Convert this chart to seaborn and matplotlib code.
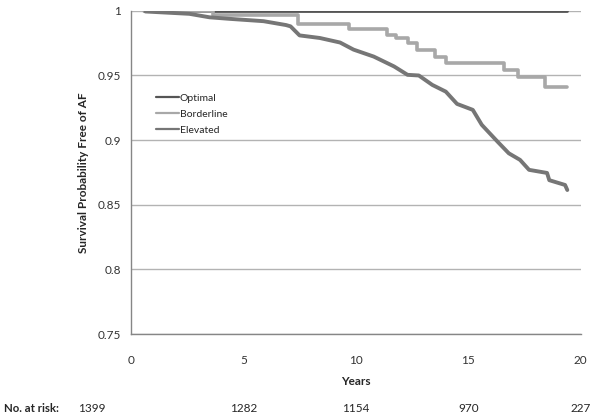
import numpy as np
import pandas as pd
import matplotlib
matplotlib.use("Agg")
import matplotlib.pyplot as plt
import seaborn as sns

# ---- data ----
optimal_t = [0.6, 19.4]
optimal_s = [1.0, 1.0]

borderline_t = [0.6, 3.65, 7.45, 9.7, 11.4, 11.8, 12.3, 12.7, 13.5, 14.0, 16.6, 17.2, 18.4, 19.4]
borderline_s = [1.0, 0.9964, 0.990, 0.986, 0.9814, 0.979, 0.975, 0.970, 0.9646, 0.960, 0.954, 0.9487, 0.9414, 0.9414]

elevated_t = [0.65, 2.6, 3.5, 4.4, 5.9, 6.9, 7.1, 7.5, 8.4, 9.3, 9.9, 10.8, 11.7, 12.3, 12.8, 13.4,
              14.0, 14.5, 15.2, 15.6, 16.3, 16.8, 17.3, 17.7, 18.5, 18.6, 19.3, 19.4]
elevated_s = [0.9995, 0.9977, 0.995, 0.9938, 0.992, 0.989, 0.988, 0.981, 0.979, 0.9755, 0.970, 0.9646,
              0.957, 0.9505, 0.950, 0.9427, 0.9375, 0.928, 0.9234, 0.9118, 0.8988, 0.8898,
              0.8847, 0.877, 0.8746, 0.869, 0.8653, 0.8614]

risk_years = [5, 10, 15, 20]
risk_counts = ["1282", "1154", "970", "227"]
risk_first = "1399"

y_ticks = [0.75, 0.8, 0.85, 0.9, 0.95, 1.0]
y_tick_labels = ["0.75", "0.8", "0.85", "0.9", "0.95", "1"]
x_ticks = [0, 5, 10, 15, 20]

# ---- build frame ----
df = pd.concat([
    pd.DataFrame({"Years": optimal_t, "S": optimal_s, "Group": "Optimal"}),
    pd.DataFrame({"Years": borderline_t, "S": borderline_s, "Group": "Borderline"}),
    pd.DataFrame({"Years": elevated_t, "S": elevated_s, "Group": "Elevated"}),
], ignore_index=True)

sns.set_style("white")
plt.rcParams["font.family"] = ["Lato", "DejaVu Sans"]

fig = plt.figure(figsize=(6.0, 4.17), dpi=100)
ax = fig.add_axes([0.218, 0.199, 0.750, 0.775])

palette = {"Optimal": "#555555", "Borderline": "#a8a8a8", "Elevated": "#767676"}
styles = {"Optimal": ("default", 2.0), "Borderline": ("steps-post", 2.6), "Elevated": ("default", 2.8)}
for g in ["Optimal", "Borderline", "Elevated"]:
    sub = df[df["Group"] == g]
    ds, lw = styles[g]
    sns.lineplot(data=sub, x="Years", y="S", ax=ax, color=palette[g],
                 linewidth=lw, drawstyle=ds, label=g,
                 estimator=None, sort=False, zorder=3)

ax.set_xlim(0, 20)
ax.set_ylim(0.75, 1.0)
ax.set_xticks(x_ticks)
ax.set_yticks(y_ticks)
ax.set_yticklabels(y_tick_labels)

ax.grid(axis="y", color="#b3b3b3", linewidth=1.0)
ax.grid(axis="x", visible=False)
ax.set_axisbelow(True)

for s in ["top", "right"]:
    ax.spines[s].set_visible(False)
for s in ["left", "bottom"]:
    ax.spines[s].set_color("#868686")
    ax.spines[s].set_linewidth(1.0)

ax.tick_params(axis="both", which="major", labelsize=8.5, colors="#333333",
               length=4, width=0.8, direction="out", color="#868686")
ax.tick_params(axis="x", pad=11)
ax.tick_params(axis="y", pad=3)

ax.set_xlabel("Years", fontsize=8.5, fontweight="bold", labelpad=7)
ax.set_ylabel("Survival Probability Free of AF", fontsize=8.5, fontweight="bold", labelpad=6)

leg = ax.legend(loc="upper left", bbox_to_anchor=(0.045, 0.76), frameon=False,
                fontsize=7.5, handlelength=2.2, handletextpad=0.05, labelspacing=0.65,
                borderpad=0.0)
for h in leg.get_lines():
    h.set_linewidth(1.6)

# number at risk row
row_y = 1 - 408 / 417
fig.text(4 / 600, row_y, "No. at risk:", fontsize=8.2, fontweight="bold",
         ha="left", va="center")
fig.text(92 / 600, row_y, risk_first, fontsize=8.5, ha="center", va="center")
for yr, c in zip(risk_years, risk_counts):
    ax.text(yr, -(408 - 334) / 323, c, transform=ax.get_xaxis_transform(), fontsize=8.5,
            ha="center", va="center", clip_on=False)

fig.savefig("out.png", dpi=100)
